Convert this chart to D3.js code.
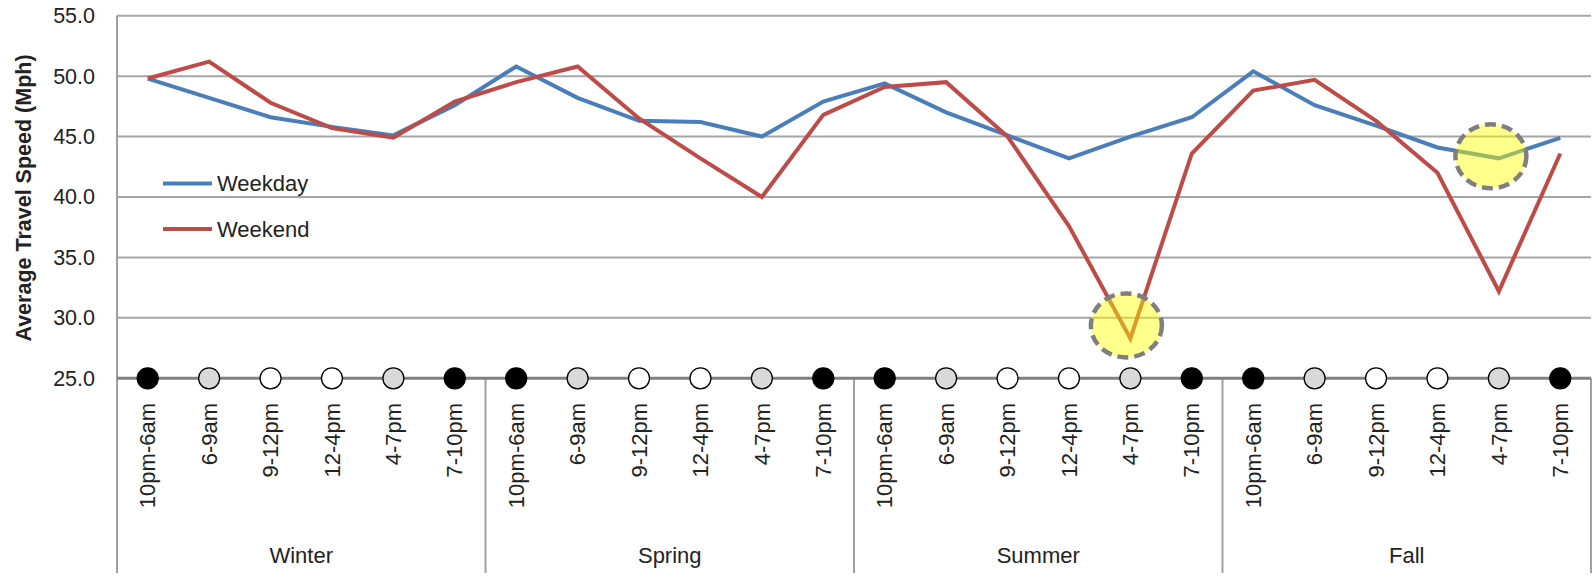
<!DOCTYPE html>
<html>
<head>
<meta charset="utf-8">
<script src="https://cdn.jsdelivr.net/npm/d3@7/dist/d3.min.js"></script>
<style>
  html, body { margin: 0; padding: 0; background: #fff; }
  svg { display: block; font-family: "Liberation Sans", Arial, sans-serif; }
</style>
</head>
<body>
<svg id="chart" width="1595" height="578"></svg>
<script>
// ---- data ----
const seasons = ["Winter", "Spring", "Summer", "Fall"];
const periods = ["10pm-6am", "6-9am", "9-12pm", "12-4pm", "4-7pm", "7-10pm"];
const periodClass = ["night", "peak", "off", "off", "peak", "night"];
const weekday = [49.8, 48.2, 46.6, 45.8, 45.1, 47.6,
                 50.8, 48.2, 46.3, 46.2, 45.0, 47.9,
                 49.4, 47.0, 45.1, 43.2, 45.0, 46.6,
                 50.4, 47.6, 45.9, 44.1, 43.2, 44.9];
const weekend = [49.8, 51.2, 47.8, 45.7, 44.9, 47.9,
                 49.5, 50.8, 46.5, 43.2, 40.0, 46.8,
                 49.1, 49.5, 45.0, 37.6, 28.3, 43.6,
                 48.8, 49.7, 46.3, 42.0, 32.2, 43.6];
const yTicks = [25, 30, 35, 40, 45, 50, 55];
const highlightSeason = ["Summer", "Fall"];
const highlightPeriod = ["4-7pm", "4-7pm"];
const highlightSeries = ["Weekend", "Weekday"];
const seriesNames = ["Weekday", "Weekend"];

// ---- layout ----
const svg = d3.select("#chart");
const L = 117, R = 1591, T = 15.7, B = 378.3, axisBottom = 573;
const colors = { Weekday: "#4a7ebb", Weekend: "#be4b48" };
const shade = { night: "#000000", peak: "#d9d9d9", off: "#ffffff" };

const cats = [];
seasons.forEach(s => periods.forEach((p, i) => cats.push({ season: s, period: p, cls: periodClass[i], key: s + "|" + p })));

const x = d3.scaleBand().domain(cats.map(c => c.key)).range([L, R]).padding(0);
const cx = k => x(k) + x.bandwidth() / 2;
const y = d3.scaleLinear().domain([25, 55]).range([B, T]);

// gridlines
svg.append("g").selectAll("line").data(yTicks.filter(v => v > 25)).join("line")
  .attr("x1", L).attr("x2", R)
  .attr("y1", d => y(d)).attr("y2", d => y(d))
  .attr("stroke", "#a6a6a6").attr("stroke-width", 2);

// y axis
const yAxis = d3.axisLeft(y).tickValues(yTicks).tickFormat(d3.format(".1f")).tickSize(0).tickPadding(22);
const gy = svg.append("g").attr("transform", `translate(${L},0)`).call(yAxis);
gy.select(".domain").remove();
gy.selectAll("text").attr("font-size", 21.5).attr("fill", "#222").attr("font-family", "Liberation Sans, Arial, sans-serif");
svg.append("line").attr("x1", L).attr("x2", L).attr("y1", T).attr("y2", axisBottom)
  .attr("stroke", "#a0a0a0").attr("stroke-width", 2);

// y title
svg.append("text")
  .attr("transform", `translate(23,198) rotate(-90)`)
  .attr("text-anchor", "middle").attr("dy", "0.35em")
  .attr("font-size", 21.5).attr("font-weight", "bold").attr("fill", "#222")
  .text("Average Travel Speed (Mph)");

// season dividers
const dividers = seasons.map(s => x(s + "|" + periods[0])).concat([R]);
svg.append("g").selectAll("line").data(dividers.slice(1)).join("line")
  .attr("x1", d => d).attr("x2", d => d).attr("y1", B).attr("y2", axisBottom)
  .attr("stroke", "#a0a0a0").attr("stroke-width", 2);

// season labels
svg.append("g").selectAll("text").data(seasons).join("text")
  .attr("x", s => (x(s + "|" + periods[0]) + x(s + "|" + periods[periods.length - 1]) + x.bandwidth()) / 2)
  .attr("y", 555).attr("dy", "0.35em").attr("text-anchor", "middle")
  .attr("font-size", 22).attr("fill", "#222").text(s => s);

// period tick labels
svg.append("g").selectAll("text").data(cats).join("text")
  .attr("transform", c => `translate(${cx(c.key)},403) rotate(-90)`)
  .attr("text-anchor", "end").attr("dy", "0.35em").attr("dx", 0)
  .attr("font-size", 22).attr("fill", "#222").text(c => c.period);

// lines
const lineGen = d3.line().x((d, i) => cx(cats[i].key)).y(d => y(d));
[["Weekday", weekday], ["Weekend", weekend]].forEach(([name, vals]) => {
  svg.append("path").datum(vals).attr("d", lineGen)
    .attr("fill", "none").attr("stroke", colors[name]).attr("stroke-width", 4)
    .attr("stroke-linejoin", "miter");
});

// baseline
svg.append("line").attr("x1", L).attr("x2", R).attr("y1", B).attr("y2", B)
  .attr("stroke", "#808080").attr("stroke-width", 3);

// period markers
svg.append("g").selectAll("circle").data(cats).join("circle")
  .attr("cx", c => cx(c.key)).attr("cy", B).attr("r", 10.5)
  .attr("fill", c => shade[c.cls]).attr("stroke", "#000").attr("stroke-width", 1.3);

// highlight ellipses
highlightSeason.forEach((s, i) => {
  const k = s + "|" + highlightPeriod[i];
  const idx = cats.findIndex(c => c.key === k);
  const v = (highlightSeries[i] === "Weekday" ? weekday : weekend)[idx];
  const ox = i === 0 ? -4 : -8, oy = i === 0 ? -13 : -2;
  svg.append("ellipse")
    .attr("cx", cx(k) + ox).attr("cy", y(v) + oy)
    .attr("rx", 35.5).attr("ry", 32)
    .attr("fill", "#ffff00").attr("fill-opacity", 0.45)
    .attr("stroke", "#7f7f7f").attr("stroke-width", 4.5)
    .attr("stroke-dasharray", "11,6");
});

// legend
const lg = svg.append("g");
seriesNames.forEach((n, i) => {
  const ly = 183.5 + i * 45.5;
  lg.append("line").attr("x1", 163).attr("x2", 212).attr("y1", ly).attr("y2", ly)
    .attr("stroke", colors[n]).attr("stroke-width", 4);
  lg.append("text").attr("x", 217).attr("y", ly).attr("dy", "0.35em")
    .attr("font-size", 22).attr("fill", "#222").text(n);
});
</script>
</body>
</html>
